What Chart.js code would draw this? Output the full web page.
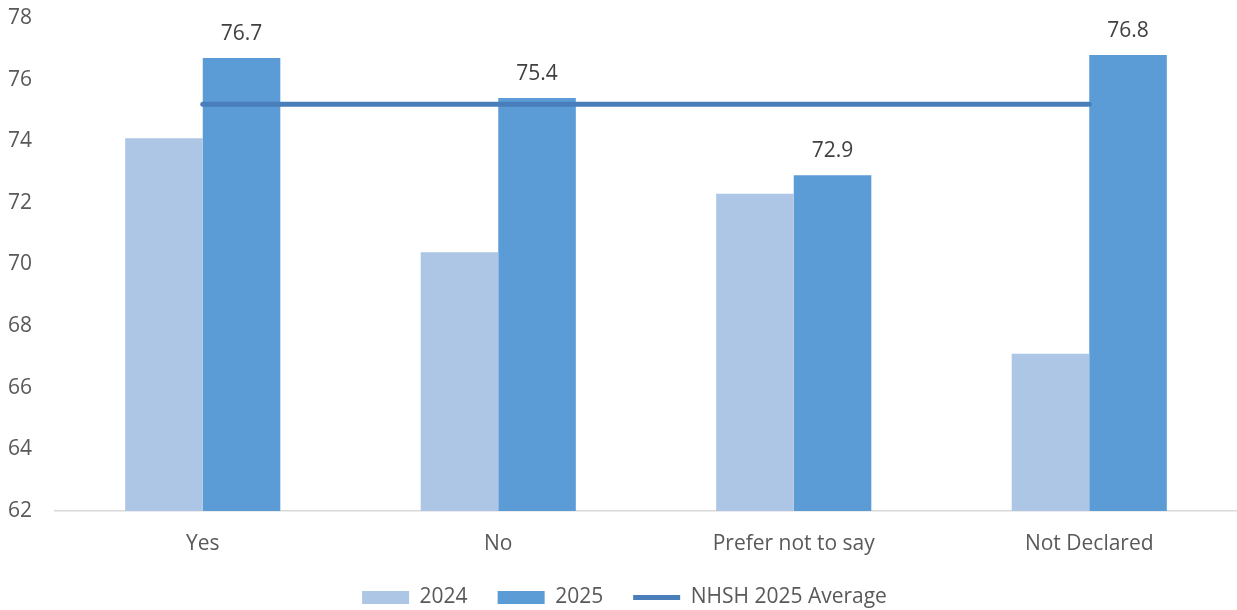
<!DOCTYPE html>
<html>
<head>
<meta charset="utf-8">
<script src="https://cdn.jsdelivr.net/npm/chart.js@4"></script>
<style>
html,body{margin:0;padding:0;background:#fff;}
#wrap{width:1237px;height:610px;position:relative;}
</style>
</head>
<body>
<div id="wrap"><canvas id="c" width="1237" height="610"></canvas></div>
<script>
const categories = ["Yes", "No", "Prefer not to say", "Not Declared"];
const values2024 = [74.1, 70.4, 72.3, 67.1];
const values2025 = [76.7, 75.4, 72.9, 76.8];
const averageValues = [75.2, 75.2, 75.2, 75.2];
const seriesNames = ["2024", "2025", "NHSH 2025 Average"];
const yMin = 62, yMax = 78, yStep = 2;

const FONT = "'Open Sans', 'Liberation Sans', sans-serif";
const FS = 21;

const labelPlugin = {
  id: 'barLabels',
  afterDatasetsDraw(chart) {
    const ctx = chart.ctx;
    const meta = chart.getDatasetMeta(1);
    ctx.save();
    ctx.font = FS + "px " + FONT;
    ctx.fillStyle = "#404040";
    ctx.textAlign = "center";
    ctx.textBaseline = "middle";
    meta.data.forEach((el, i) => {
      const v = chart.data.datasets[1].data[i];
      ctx.fillText(v.toFixed(1), el.x, el.y - 24);
    });
    ctx.restore();
  }
};

new Chart(document.getElementById('c'), {
  type: 'bar',
  data: {
    labels: categories,
    datasets: [
      {
        type: 'bar', label: seriesNames[0], data: values2024,
        backgroundColor: '#AEC6E6', borderWidth: 0,
        categoryPercentage: 0.525, barPercentage: 1, order: 2,
        pointStyle: 'rect'
      },
      {
        type: 'bar', label: seriesNames[1], data: values2025,
        backgroundColor: '#5B9BD6', borderWidth: 0,
        categoryPercentage: 0.525, barPercentage: 1, order: 2,
        pointStyle: 'rect'
      },
      {
        type: 'line', label: seriesNames[2], data: averageValues,
        borderColor: '#4A7EBB', backgroundColor: '#4A7EBB',
        borderWidth: 5, pointRadius: 0, pointHoverRadius: 0,
        borderCapStyle: 'round', fill: false, order: 1,
        pointStyle: 'line'
      }
    ]
  },
  options: {
    responsive: false,
    animation: false,
    devicePixelRatio: 1,
    layout: { autoPadding: false, padding: { top: 18, right: -4, left: 8, bottom: -8 } },
    plugins: {
      tooltip: { enabled: false },
      legend: {
        position: 'bottom',
        labels: {
          usePointStyle: true,
          pointStyleWidth: 47,
          boxHeight: 13,
          padding: 30,
          color: '#595959',
          font: { family: FONT, size: FS },
          sort: (a, b) => a.datasetIndex - b.datasetIndex
        }
      }
    },
    scales: {
      x: {
        grid: { display: false, drawTicks: false },
        border: { display: true, color: '#D9D9D9', width: 1.5 },
        ticks: { color: '#595959', font: { family: FONT, size: FS }, padding: 20 },
        afterFit(scale) { scale.height = 46; }
      },
      y: {
        min: yMin, max: yMax,
        grid: { display: false, drawTicks: false },
        border: { display: false },
        ticks: { stepSize: yStep, color: '#595959', font: { family: FONT, size: FS }, padding: 0, crossAlign: 'far' },
        afterFit(scale) { scale.width = 47; }
      }
    }
  },
  plugins: [labelPlugin]
});
</script>
</body>
</html>
